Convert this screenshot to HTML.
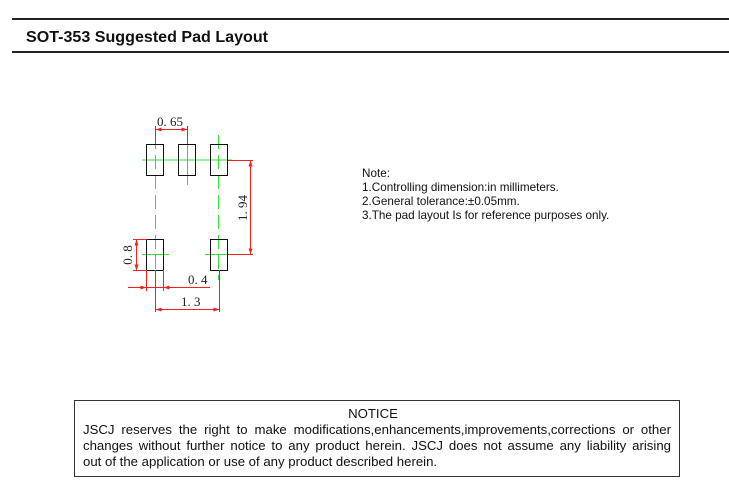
<!DOCTYPE html>
<html><head><meta charset="utf-8"><style>
body{margin:0;background:#fff;width:729px;height:501px;overflow:hidden;position:relative;font-family:"Liberation Sans",Arial,sans-serif}
.j{position:absolute;left:83px;width:588px;font-size:13.2px;line-height:16.3px;text-align:justify;text-align-last:justify;white-space:nowrap;color:#111}
</style></head><body>
<svg width="729" height="501" style="position:absolute;left:0;top:0">
<line x1="12" y1="19" x2="729" y2="19" stroke="#222" stroke-width="2"/>
<line x1="12" y1="52" x2="729" y2="52" stroke="#222" stroke-width="2"/>
<text x="26" y="42" font-family="Liberation Sans,Arial,sans-serif" font-weight="bold" font-size="15.5" fill="#111" textLength="242" lengthAdjust="spacingAndGlyphs">SOT-353 Suggested Pad Layout</text>
<g stroke="#33dd33" stroke-width="1">
<line x1="142" y1="160" x2="232" y2="160"/>
<line x1="142" y1="254.5" x2="169" y2="254.5"/>
<line x1="205" y1="254.5" x2="232" y2="254.5"/>
<line x1="155.5" y1="135" x2="155.5" y2="280" stroke-dasharray="14,6"/>
<line x1="187.5" y1="135" x2="187.5" y2="185"/>
<line x1="218.5" y1="135" x2="218.5" y2="280" stroke-dasharray="14,6"/>
</g>
<g fill="none" stroke="#111" stroke-width="1">
<rect x="146.5" y="144.5" width="17" height="31"/>
<rect x="178.5" y="144.5" width="17" height="31"/>
<rect x="210.5" y="144.5" width="17" height="31"/>
<rect x="146.5" y="239.5" width="17" height="31"/>
<rect x="210.5" y="239.5" width="17" height="31"/>
</g>
<g stroke="#ee2222" stroke-width="1" fill="none">
<line x1="155.5" y1="126" x2="155.5" y2="144"/>
<line x1="187.5" y1="126" x2="187.5" y2="144"/>
<line x1="155.5" y1="129.5" x2="187.5" y2="129.5"/>
<line x1="228" y1="160.5" x2="253" y2="160.5"/>
<line x1="228" y1="254.5" x2="253" y2="254.5"/>
<line x1="250.5" y1="160" x2="250.5" y2="255"/>
<line x1="133" y1="239.5" x2="147" y2="239.5"/>
<line x1="133" y1="270.5" x2="147" y2="270.5"/>
<line x1="136.5" y1="239" x2="136.5" y2="271"/>
<line x1="128" y1="287.5" x2="210" y2="287.5"/>
<line x1="146.5" y1="270" x2="146.5" y2="291"/>
<line x1="163.5" y1="270" x2="163.5" y2="291"/>
<line x1="155.5" y1="270" x2="155.5" y2="312"/>
<line x1="219.5" y1="270" x2="219.5" y2="312"/>
<line x1="155.5" y1="309.5" x2="219.5" y2="309.5"/>
</g>
<g fill="#ee2222">
<path d="M155.5 129.5l6-2v4z M187.5 129.5l-6-2v4z"/>
<path d="M250.5 160.5l-2 6h4z M250.5 254.5l-2-6h4z"/>
<path d="M136.5 239.5l-2 6h4z M136.5 270.5l-2-6h4z"/>
<path d="M146.5 287.5l-6-2v4z M163.5 287.5l6-2v4z"/>
<path d="M155.5 309.5l6-2v4z M219.5 309.5l-6-2v4z"/>
</g>
<g font-family="Liberation Serif,serif" font-size="13" fill="#222">
<text x="157" y="126">0. 65</text>
<text x="188" y="284">0. 4</text>
<text x="181" y="306">1. 3</text>
<text transform="translate(247,208) rotate(-90)" text-anchor="middle">1. 94</text>
<text transform="translate(132,255) rotate(-90)" text-anchor="middle">0. 8</text>
</g>
<g font-family="Liberation Sans,Arial,sans-serif" font-size="11.7" fill="#111">
<text x="362" y="177">Note:</text>
<text x="362" y="191">1.Controlling dimension:in millimeters.</text>
<text x="362" y="205">2.General tolerance:±0.05mm.</text>
<text x="362" y="219">3.The pad layout Is for reference purposes only.</text>
</g>
<rect x="74.5" y="400.5" width="605" height="76" fill="none" stroke="#333" stroke-width="1"/>
<text x="373" y="418" text-anchor="middle" font-family="Liberation Sans,Arial,sans-serif" font-size="13.2" fill="#111">NOTICE</text>
</svg>
<div class="j" style="top:422px">JSCJ reserves the right to make modifications,enhancements,improvements,corrections or other</div>
<div class="j" style="top:438px">changes without further notice to any product herein. JSCJ does not assume any liability arising</div>
<div class="j" style="top:454px;text-align-last:left">out of the application or use of any product described herein.</div>
</body></html>
